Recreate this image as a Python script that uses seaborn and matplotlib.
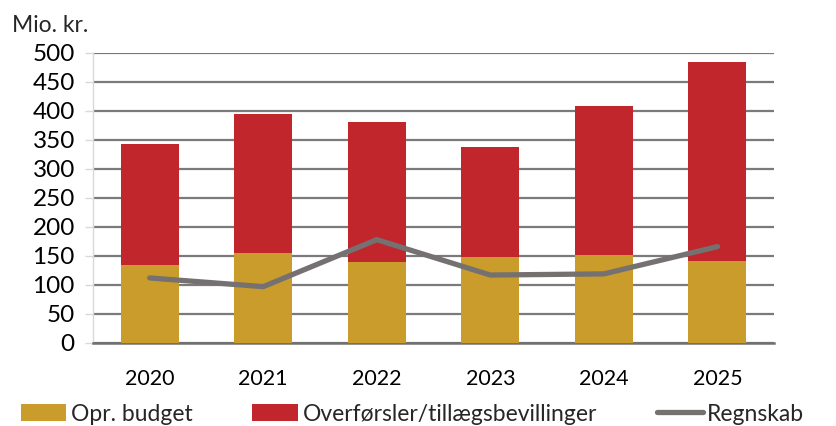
import matplotlib
matplotlib.use("Agg")
import matplotlib.pyplot as plt
import seaborn as sns
import numpy as np
from matplotlib.patches import Patch
from matplotlib.lines import Line2D

years = ["2020", "2021", "2022", "2023", "2024", "2025"]
opr_budget = [134, 155, 140, 148, 152, 141]
overfoersler = [209, 239, 240, 189, 256, 343]
regnskab = [112, 97, 178, 117, 119, 166]

gold = "#C99C2B"
red = "#C0262C"
grey_line = "#767171"

sns.set_theme(style="white")
plt.rcParams["font.family"] = ["Lato", "DejaVu Sans"]

fig = plt.figure(figsize=(8.37, 4.26), dpi=100)
ax = fig.add_axes([0.111, 0.195, 0.814, 0.681])

totals = np.array(opr_budget) + np.array(overfoersler)

sns.barplot(x=years, y=totals, color=red, width=0.51, saturation=1,
            ax=ax, zorder=3, linewidth=0)
sns.barplot(x=years, y=opr_budget, color=gold, width=0.51, saturation=1,
            ax=ax, zorder=4, linewidth=0)
sns.lineplot(x=years, y=regnskab, color=grey_line, linewidth=3.8,
             ax=ax, zorder=5, solid_capstyle="round", sort=False)

ax.set_ylim(0, 500)
ax.set_xlim(-0.5, 5.5)
ax.set_yticks(np.arange(0, 501, 50))
ax.yaxis.grid(True, color="#7a7a7a", linewidth=1.6, zorder=0)
ax.xaxis.grid(False)
ax.set_axisbelow(True)
ax.set_xlabel("")
ax.set_ylabel("")

for side in ["top", "right"]:
    ax.spines[side].set_visible(False)
ax.spines["left"].set_color("#d9d9d9")
ax.spines["left"].set_linewidth(1.0)
ax.spines["bottom"].set_color("#707070")
ax.spines["bottom"].set_linewidth(1.8)

ax.tick_params(axis="y", which="major", length=6, width=1.0, color="#d9d9d9",
               left=True, pad=7, labelsize=17.5, labelcolor="#000000")
ax.tick_params(axis="x", length=0, pad=19, labelsize=15.5, labelcolor="#000000")

fig.text(0.014, 0.94, "Mio. kr.", fontsize=16.5, ha="left", va="center")

handles = [
    Patch(facecolor=gold, edgecolor="none"),
    Patch(facecolor=red, edgecolor="none"),
    Line2D([0], [0], color=grey_line, linewidth=3.8, solid_capstyle="round"),
]
labels = ["Opr. budget", "Overførsler/tillægsbevillinger", "Regnskab"]
fig.legend(handles, labels, loc="lower left", bbox_to_anchor=(0.0, -0.045),
           ncol=3, frameon=False, fontsize=16.5, handlelength=2.0,
           handleheight=0.8, handletextpad=0.2, columnspacing=2.6)

fig.savefig("out.png", dpi=100)
